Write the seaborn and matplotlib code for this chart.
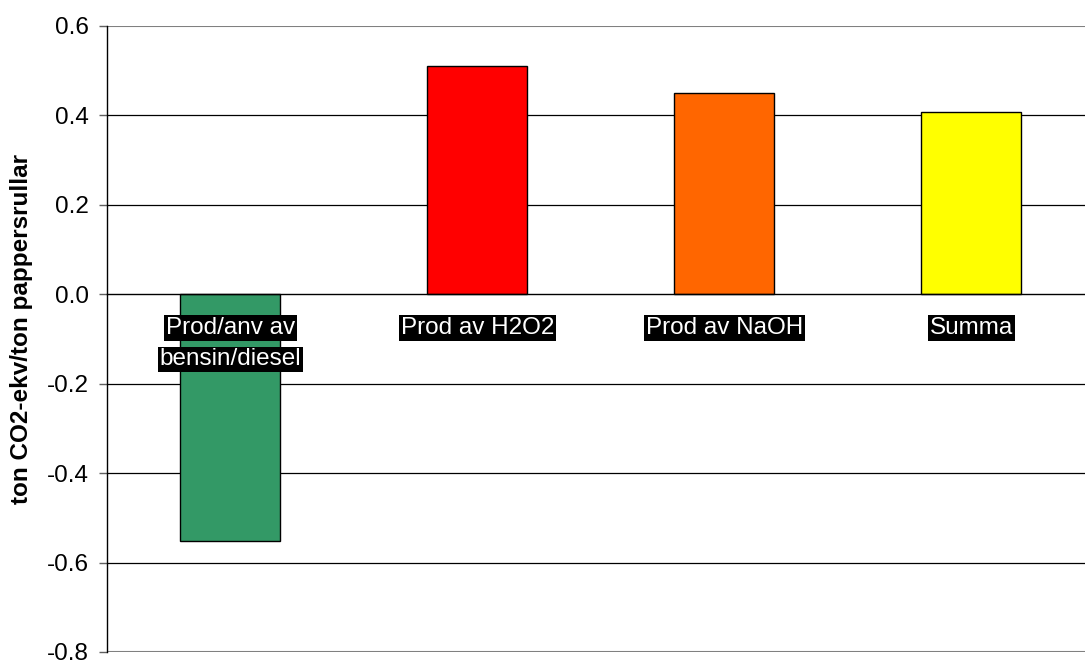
import matplotlib
matplotlib.use("Agg")
import matplotlib.pyplot as plt
import seaborn as sns
import pandas as pd

# Climate impact per component (ton CO2-eq per ton paper rolls)
categories = ["Prod/anv av\nbensin/diesel", "Prod av H2O2", "Prod av NaOH", "Summa"]
values = [-0.552, 0.510, 0.450, 0.407]
colors = ["#339966", "#FF0000", "#FF6600", "#FFFF00"]
y_ticks = [-0.8, -0.6, -0.4, -0.2, 0.0, 0.2, 0.4, 0.6]
y_label = "ton CO2-ekv/ton pappersrullar"

df = pd.DataFrame({"category": categories, "value": values})

sns.set_style("white")
plt.rcParams["font.family"] = ["Liberation Sans", "DejaVu Sans"]
plt.rcParams["text.color"] = "black"
plt.rcParams["axes.labelcolor"] = "black"
plt.rcParams["ytick.color"] = "black"

fig = plt.figure(figsize=(10.85, 6.62), dpi=100)
ax = fig.add_axes([107 / 1085, 10 / 662, 978 / 1085, 626 / 662])

sns.barplot(data=df, x="category", y="value", hue="category",
            palette=colors, order=categories, hue_order=categories,
            width=0.405, saturation=1, edgecolor="black", linewidth=1.0,
            legend=False, ax=ax, zorder=3)

ax.set_xlim(-0.5, 3.46)
ax.set_ylim(-0.8, 0.6)
ax.set_yticks(y_ticks)
ax.set_yticklabels([f"{t:.1f}" for t in y_ticks], fontsize=17.5, color="black")

# horizontal gridlines: black inside, grey at the outer limits
for t in y_ticks:
    if t in (-0.8, 0.6):
        ax.axhline(t, color="#808080", lw=1.5, zorder=1)
    elif t != 0.0:
        ax.axhline(t, color="black", lw=0.9, zorder=1)

for side in ("top", "right"):
    ax.spines[side].set_visible(False)
ax.spines["left"].set_color("black")
ax.spines["left"].set_linewidth(1.0)
ax.spines["bottom"].set_position(("data", 0))
ax.spines["bottom"].set_color("black")
ax.spines["bottom"].set_linewidth(1.0)
ax.spines["bottom"].set_zorder(4)

# category dividers as tick marks on the zero line
ax.set_xticks([0.5, 1.5, 2.5])
ax.set_xticklabels([])
ax.tick_params(axis="x", direction="out", length=6, width=1, color="#606060")
ax.tick_params(axis="y", direction="out", length=6, width=1, color="#606060",
               pad=7, left=True)
ax.set_xlabel("")
ax.set_ylabel(y_label, fontsize=17.5, fontweight="bold")
ax.yaxis.set_label_coords(22 / 1085, 1 - 329 / 662, transform=fig.transFigure)
ax.yaxis.label.set_verticalalignment("center")

# category labels: white text on black, just below the zero line
for i, cat in enumerate(categories):
    for j, line in enumerate(cat.split("\n")):
        ax.annotate(line, xy=(i, 0), xytext=(0, -16.5 - j * 22.5),
                    textcoords="offset points", ha="center", va="top",
                    fontsize=17.5, color="white", zorder=5,
                    bbox=dict(boxstyle="square,pad=0.08", fc="black", ec="none"))

fig.savefig("out.png", dpi=100)
